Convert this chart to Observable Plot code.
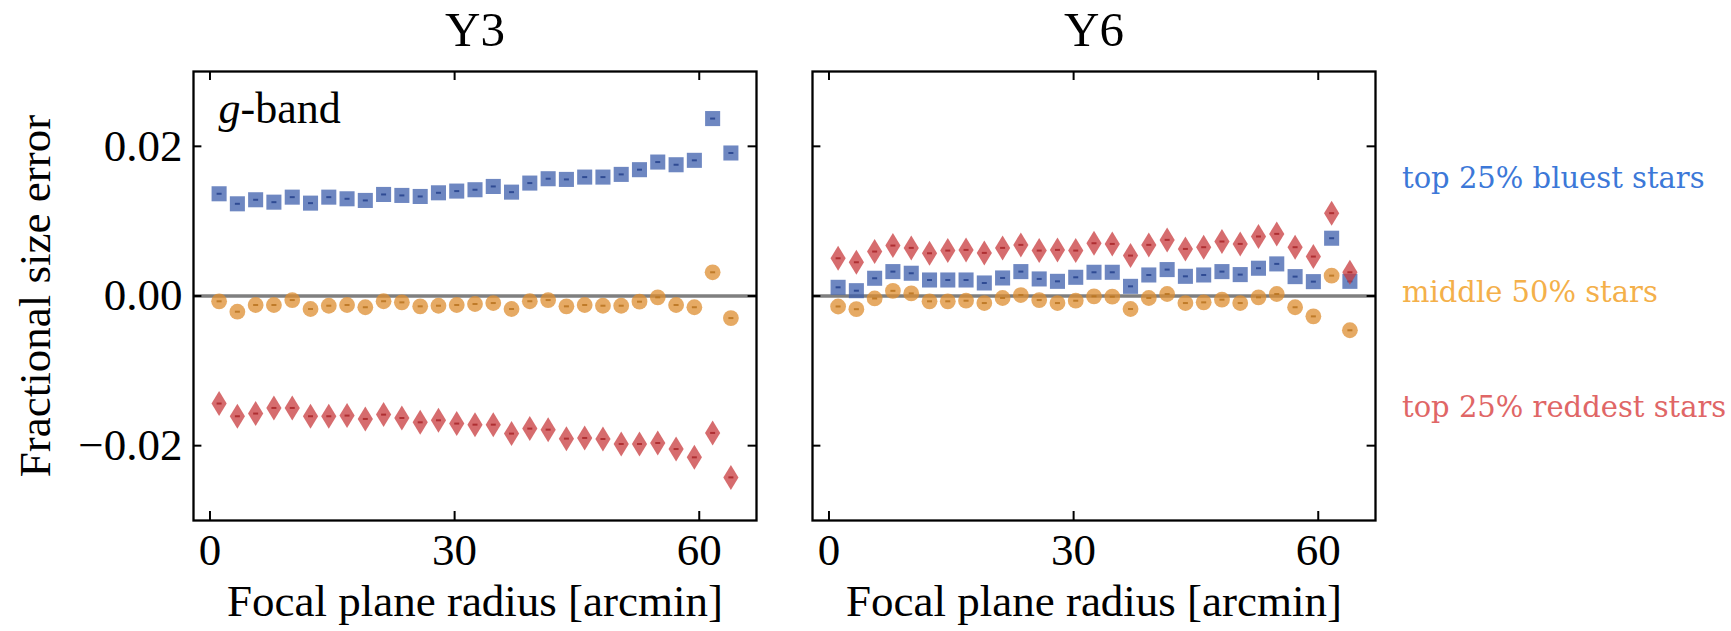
<!DOCTYPE html>
<html><head><meta charset="utf-8">
<script src="https://cdn.jsdelivr.net/npm/d3@7"></script>
<script src="https://cdn.jsdelivr.net/npm/@observablehq/plot@0.6"></script>
<style>
body{margin:0;background:#fff;}
#wrap{position:relative;width:1731px;height:631px;}
.leg{position:absolute;left:1402px;font-family:"DejaVu Serif";font-size:29px;line-height:29px;white-space:nowrap;}
</style></head><body><div id="wrap"></div>
<script>
// ---- data ----
const panels = ["Y3", "Y6"];
const seriesNames = ["top 25% bluest stars", "middle 50% stars", "top 25% reddest stars"];
const seriesColors = ["#3c78d8", "#f4b04a", "#e06666"];
const radius = [1.12, 3.36, 5.60, 7.84, 10.09, 12.33, 14.57, 16.81, 19.05, 21.29, 23.53, 25.78, 28.02, 30.26, 32.50, 34.74, 36.98, 39.22, 41.47, 43.71, 45.95, 48.19, 50.43, 52.67, 54.91, 57.16, 59.40, 61.64, 63.88];
const xTicks = [0, 30, 60];
const yTicks = [-0.02, 0, 0.02];

const y3Blue = [0.01366,0.01232,0.01286,0.01254,0.01321,0.01241,0.01321,0.01299,0.01277,0.01357,0.01344,0.01330,0.01379,0.01402,0.01420,0.01464,0.01388,0.01509,0.01567,0.01558,0.01589,0.01589,0.01625,0.01688,0.01790,0.01754,0.01813,0.02371,0.01911];
const y3Mid = [-0.00071,-0.00210,-0.00120,-0.00120,-0.00054,-0.00174,-0.00130,-0.00120,-0.00150,-0.00070,-0.00085,-0.00138,-0.00130,-0.00120,-0.00107,-0.00094,-0.00174,-0.00070,-0.00054,-0.00138,-0.00120,-0.00130,-0.00130,-0.00076,-0.00018,-0.00120,-0.00150,0.00317,-0.00295];
const y3Red = [-0.01437,-0.01607,-0.01571,-0.01496,-0.01496,-0.01607,-0.01607,-0.01598,-0.01643,-0.01585,-0.01630,-0.01688,-0.01661,-0.01705,-0.01719,-0.01719,-0.01839,-0.01772,-0.01786,-0.01906,-0.01897,-0.01911,-0.01978,-0.01978,-0.01964,-0.02045,-0.02156,-0.01830,-0.02424];
const y6Blue = [0.00116,0.00071,0.00237,0.00326,0.00304,0.00214,0.00214,0.00214,0.00174,0.00241,0.00326,0.00228,0.00196,0.00250,0.00317,0.00317,0.00129,0.00281,0.00353,0.00263,0.00281,0.00326,0.00286,0.00371,0.00429,0.00259,0.00192,0.00772,0.00196];
const y6Mid = [-0.00140,-0.00176,-0.00033,0.00069,0.00035,-0.00071,-0.00071,-0.00063,-0.00094,-0.00027,0.00013,-0.00054,-0.00094,-0.00063,-0.00004,-0.00009,-0.00174,-0.00027,0.00027,-0.00094,-0.00085,-0.00049,-0.00094,-0.00018,0.00027,-0.00150,-0.00272,0.00272,-0.00458];
const y6Red = [0.00504,0.00451,0.00594,0.00674,0.00643,0.00571,0.00607,0.00616,0.00576,0.00643,0.00683,0.00607,0.00616,0.00607,0.00705,0.00696,0.00540,0.00683,0.00750,0.00629,0.00652,0.00728,0.00696,0.00795,0.00830,0.00652,0.00527,0.01107,0.00317];

// ---- build table ----
const table = {Y3: [y3Blue, y3Mid, y3Red], Y6: [y6Blue, y6Mid, y6Red]};
const rows = [];
for (const p of panels) table[p].forEach((vals, s) => vals.forEach((v, i) => rows.push({panel: p, s, r: radius[i], v})));
const ser = s => rows.filter(d => d.s === s);

const W = 1731, H = 631, mL = 192, mR = 356, mT = 71, mB = 111;
const frameH = H - mT - mB;
const font = "Liberation Serif";

const diamond = {draw(ctx) { ctx.moveTo(0, -12.5); ctx.lineTo(7.6, 0); ctx.lineTo(0, 12.5); ctx.lineTo(-7.6, 0); ctx.closePath(); }};
const dash = {draw(ctx) { ctx.rect(-2.5, -1, 5, 2); }};

const fills = ["#3e5fac", "#de8e30", "#c83b3e"];
const darks = ["#24418c", "#b8731e", "#a82428"];
const shapes = ["square", "circle", diamond];
const radii = [8.5, 7.9, 8];

const pointMarks = [];
[0, 1, 2].forEach(s => {
  pointMarks.push(Plot.dot(ser(s), {fx: "panel", x: "r", y: "v", symbol: shapes[s], r: radii[s], fill: fills[s], fillOpacity: 0.75, stroke: "none"}));
  pointMarks.push(Plot.dot(ser(s), {fx: "panel", x: "r", y: "v", symbol: dash, r: 2, fill: darks[s], fillOpacity: 0.85, stroke: "none"}));
});

const chart = Plot.plot({
  width: W, height: H,
  marginLeft: mL, marginRight: mR, marginTop: mT, marginBottom: mB,
  style: {fontFamily: font, fontSize: "45px", color: "black", background: "white", overflow: "visible"},
  fx: {domain: panels, paddingInner: 0.0905, paddingOuter: 0, label: null},
  x: {domain: [-2.02, 67.02]},
  y: {domain: [-0.03, 0.03]},
  marks: [
    Plot.ruleY([0], {stroke: "#7f7f7f", strokeWidth: 3.5}),
    ...pointMarks,
    Plot.tickX(xTicks, {x: d => d, insetTop: frameH - 9, stroke: "black", strokeWidth: 2}),
    Plot.tickX(xTicks, {x: d => d, insetBottom: frameH - 9, stroke: "black", strokeWidth: 2}),
    Plot.tickY(yTicks, {y: d => d, insetRight: 563.6 - 9, stroke: "black", strokeWidth: 2}),
    Plot.tickY(yTicks, {y: d => d, insetLeft: 563.6 - 9, stroke: "black", strokeWidth: 2}),
    Plot.frame({stroke: "black", strokeWidth: 2.3}),
    Plot.axisX({ticks: xTicks, tickSize: 0, tickPadding: 13, fontSize: 45, label: null, tickFormat: d3.format("d")}),
    Plot.axisY({ticks: yTicks, tickSize: 0, tickPadding: 11, fontSize: 45, label: null, tickFormat: d3.format(".2f")}),
    Plot.axisFx({anchor: "top", tickSize: 0, tickPadding: 26, fontSize: 49, label: null}),
    Plot.text(["Focal plane radius [arcmin]"], {text: d => d, frameAnchor: "bottom", dy: 95, lineAnchor: "bottom", fontSize: 45}),
    Plot.text([{panel: "Y3"}], {fx: "panel", text: () => "Fractional size error", frameAnchor: "left", rotate: -90, dx: -144, lineAnchor: "bottom", textAnchor: "middle", fontSize: 45}),
    Plot.text([{panel: "Y3"}], {fx: "panel", text: () => "g", frameAnchor: "top-left", dx: 25, dy: 51, lineAnchor: "bottom", textAnchor: "start", fontStyle: "italic", fontSize: 44}),
    Plot.text([{panel: "Y3"}], {fx: "panel", text: () => "-band", frameAnchor: "top-left", dx: 47, dy: 51, lineAnchor: "bottom", textAnchor: "start", fontSize: 44})
  ]
});

const wrap = document.getElementById("wrap");
wrap.appendChild(chart);
const legTops = [163.5, 277.5, 392.5];
seriesNames.forEach((name, i) => {
  const d = document.createElement("div");
  d.className = "leg";
  d.style.top = legTops[i] + "px";
  d.style.color = seriesColors[i];
  d.textContent = name;
  wrap.appendChild(d);
});
</script>
</body></html>
